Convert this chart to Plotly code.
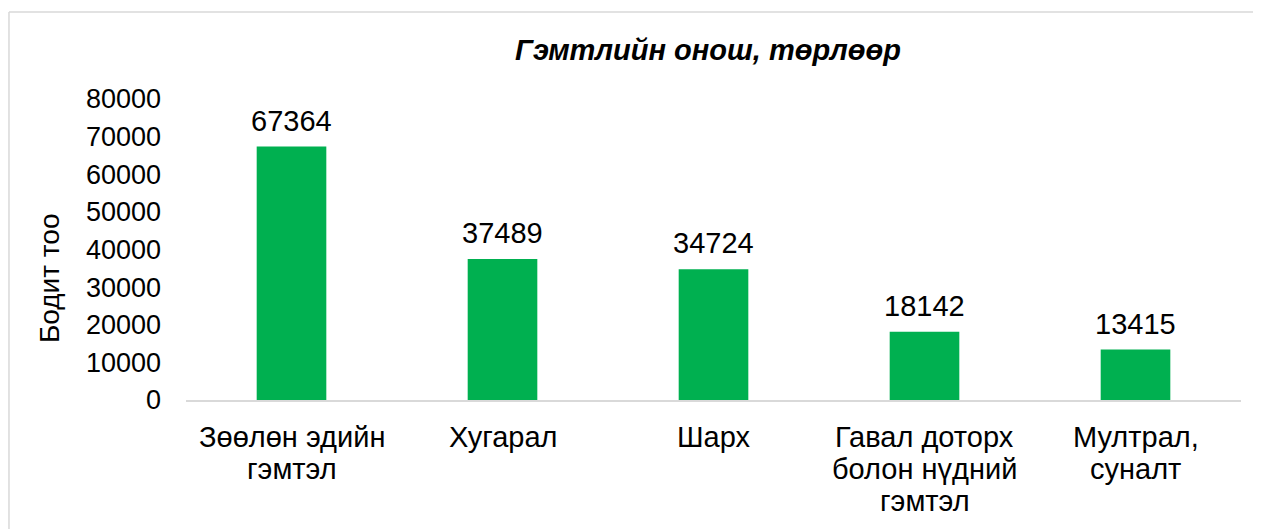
import plotly.graph_objects as go

category_lines = [["Зөөлөн эдийн", "гэмтэл"], ["Хугарал"], ["Шарх"],
                  ["Гавал доторх", "болон нүдний", "гэмтэл"], ["Мултрал,", "суналт"]]
categories = [" ".join(l) for l in category_lines]
values = [67364, 37489, 34724, 18142, 13415]
title_text = "Гэмтлийн онош, төрлөөр"
y_title = "Бодит тоо"
y_ticks = [0, 10000, 20000, 30000, 40000, 50000, 60000, 70000, 80000]

FONT = "Liberation Sans, Arial, sans-serif"

fig = go.Figure()
fig.add_trace(go.Bar(x=categories, y=values, marker=dict(color="#00B050", line=dict(width=0)),
                     hoverinfo="x+y"))

# data labels
for c, v in zip(categories, values):
    fig.add_annotation(x=c, y=v, text=str(v), showarrow=False, yanchor="bottom", yshift=8,
                       font=dict(size=29, color="#000000", family=FONT))

# category labels (one annotation per line for Excel-like line spacing)
for c, lines in zip(categories, category_lines):
    for i, line in enumerate(lines):
        fig.add_annotation(x=c, xref="x", y=0, yref="paper", text=line, showarrow=False,
                           xanchor="center", yanchor="middle", yshift=-(37 + 32 * i),
                           font=dict(size=29, color="#000000", family=FONT))

fig.add_annotation(xref="paper", yref="paper", x=-0.1299, y=0.405, text=y_title, textangle=-90,
                   showarrow=False, xanchor="center", yanchor="middle",
                   font=dict(size=28, color="#000000", family=FONT))

# chart-area border (top and left edges visible in the frame)
border = dict(color="#D9D9D9", width=1.5)
fig.add_shape(type="line", xref="paper", yref="paper", x0=-0.1678, x1=1.2, y0=1.289, y1=1.289,
              line=border, layer="below")
fig.add_shape(type="line", xref="paper", yref="paper", x0=-0.1678, x1=-0.1678, y0=-0.6, y1=1.289,
              line=border, layer="below")

fig.update_layout(
    width=1253, height=521,
    margin=dict(l=178, r=20, t=91, b=129),
    paper_bgcolor="white", plot_bgcolor="white",
    bargap=0.67,
    showlegend=False,
    title=dict(text="<b><i>" + title_text + "</i></b>", x=0.4948, xanchor="center", xref="paper",
               y=1 - 42 / 521, yanchor="middle", yref="container",
               font=dict(size=29, color="#000000", family=FONT)),
    font=dict(family=FONT, color="#000000"),
)
fig.update_xaxes(showline=True, linecolor="#D9D9D9", linewidth=1.5, ticks="", showgrid=False,
                 showticklabels=False)
fig.update_yaxes(range=[0, 80000], tickvals=y_ticks, ticktext=[str(t) for t in y_ticks],
                 showline=False, showgrid=False, zeroline=False, ticks="",
                 tickfont=dict(size=27, color="#000000", family=FONT), ticklabelstandoff=24)

fig.write_html("out.html")
